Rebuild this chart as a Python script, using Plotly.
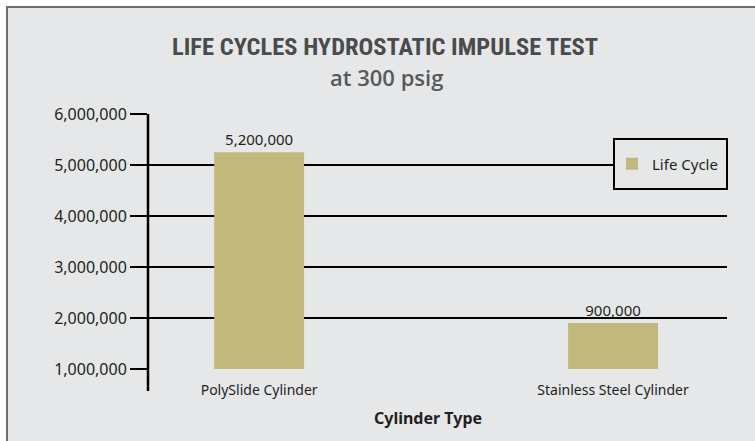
import plotly.graph_objects as go

# Data
categories = ["PolySlide Cylinder", "Stainless Steel Cylinder"]
bar_tops = [5250000, 1900000]          # bar heights as drawn on the axis
bar_labels = ["5,200,000", "900,000"]   # printed value labels
y_ticks = [1000000, 2000000, 3000000, 4000000, 5000000, 6000000]
series_name = "Life Cycle"

BG = "#e6e7e8"
BAR = "#c1b97b"
TXT = "#231f20"

# plot area pixel geometry (for converting to paper coords)
L, R, T, B = 148, 727, 114, 369
W, H = 755, 441
def px(x):
    return (x - L) / (R - L)
def py(y):
    return (B - y) / (B - T)

fig = go.Figure()
fig.add_trace(go.Bar(
    x=categories, y=bar_tops, name=series_name,
    marker=dict(color=BAR, line=dict(width=0)),
    width=0.254,
    text=bar_labels, textposition="outside", cliponaxis=False,
    textfont=dict(family="Noto Sans", size=15, color=TXT),
    showlegend=True,
))

shapes = [
    # gray panel with border
    dict(type="rect", xref="paper", yref="paper", layer="below",
         x0=px(7), x1=px(790), y0=py(7), y1=py(480),
         fillcolor=BG, line=dict(color="#6d6e70", width=2)),
    # y axis line extended below
    dict(type="line", xref="paper", yref="paper", layer="above",
         x0=0, x1=0, y0=py(114), y1=py(391),
         line=dict(color="black", width=2.5)),
    # legend box
    dict(type="rect", xref="paper", yref="paper", layer="above",
         x0=px(614), x1=px(727), y0=py(189), y1=py(139),
         fillcolor=BG, line=dict(color="black", width=2)),
]

annotations = [
    dict(text="<b>LIFE CYCLES HYDROSTATIC IMPULSE TEST</b>", xref="paper", yref="paper",
         x=px(385), y=py(46), showarrow=False, xanchor="center", yanchor="middle",
         font=dict(family="Roboto Condensed", size=24.5, color="#4a4b4d")),
    dict(text="at 300 psig", xref="paper", yref="paper",
         x=px(386), y=py(77), showarrow=False, xanchor="center", yanchor="middle",
         font=dict(family="Open Sans", size=22, weight=600, color="#58595b")),
    dict(text="<b>Cylinder Type</b>", xref="paper", yref="paper",
         x=px(428), y=py(418), showarrow=False, xanchor="center", yanchor="middle",
         font=dict(family="Noto Sans", size=16, color=TXT)),
]

fig.update_layout(
    width=W, height=H,
    margin=dict(l=L, r=W - R, t=T, b=H - B, pad=0),
    paper_bgcolor="white", plot_bgcolor=BG,
    shapes=shapes, annotations=annotations,
    bargap=0.5,
    legend=dict(x=px(612), y=py(164), xanchor="left", yanchor="middle",
                bgcolor="rgba(0,0,0,0)", borderwidth=0,
                font=dict(family="Noto Sans", size=15, color=TXT)),
    font=dict(family="Noto Sans", color=TXT),
)
fig.update_xaxes(
    range=[-0.314, 1.322], showline=False, ticks="", showgrid=False,
    tickfont=dict(family="Noto Sans", size=14, color=TXT),
    ticklabelstandoff=11,
)
fig.update_yaxes(
    range=[1000000, 6000000], tickvals=y_ticks, tickformat=",d",
    showgrid=True, gridcolor="black", gridwidth=2,
    ticks="outside", ticklen=17, tickwidth=2, tickcolor="black",
    showline=False, zeroline=False,
    tickfont=dict(family="Noto Sans", size=16, color=TXT),
)

fig.write_html("out.html", config={"displayModeBar": False},
               post_script="document.body.style.margin='0';")
